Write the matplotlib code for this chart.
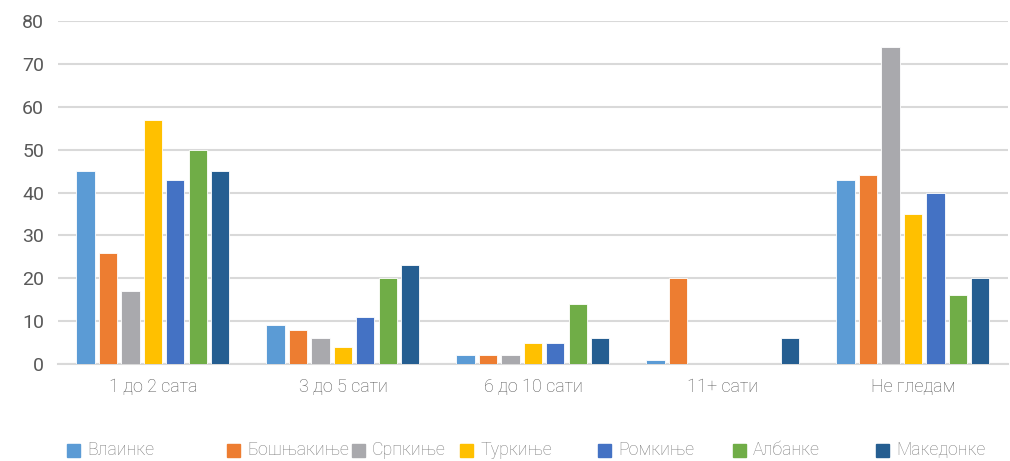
import matplotlib.pyplot as plt
from matplotlib.patches import Rectangle
import numpy as np

plt.rcParams['font.family'] = ['Roboto', 'DejaVu Sans']
plt.rcParams['font.weight'] = 'light'

# Data
categories = ['1 до 2 сата', '3 до 5 сати', '6 до 10 сати', '11+ сати', 'Не гледам']
series = ['Влаинке', 'Бошњакиње', 'Српкиње', 'Туркиње', 'Ромкиње', 'Албанке', 'Македонке']
vlainke = [45, 9, 2, 1, 43]
bosnjakinje = [26, 8, 2, 20, 44]
srpkinje = [17, 6, 2, 0, 74]
turkinje = [57, 4, 5, 0, 35]
romkinje = [43, 11, 5, 0, 40]
albanke = [50, 20, 14, 0, 16]
makedonke = [45, 23, 6, 6, 20]
yticks = [0, 10, 20, 30, 40, 50, 60, 70, 80]

values = [vlainke, bosnjakinje, srpkinje, turkinje, romkinje, albanke, makedonke]
colors = ['#5B9BD5', '#ED7D31', '#A9A9AD', '#FFC000', '#4472C4', '#70AD47', '#255E91']

fig = plt.figure(figsize=(10.10, 4.61), dpi=100)
ax = fig.add_axes([0.0574, 0.2104, 0.9406, 0.744])

x = np.arange(len(categories))
slot = 0.1184
width = 0.095
for i, (vals, col) in enumerate(zip(values, colors)):
    ax.bar(x + (i - 3) * slot, vals, width, color=col, edgecolor='white',
           linewidth=0.6, zorder=3)

ax.set_xlim(-0.5, len(categories) - 0.5)
ax.set_ylim(0, 80)
ax.set_yticks(yticks)
ax.set_yticklabels([str(t) for t in yticks], fontweight='normal')
ax.set_xticks(x)
ax.set_xticklabels(categories, fontsize=13, color='#595959')
ax.tick_params(axis='y', labelsize=14, labelcolor='#595959', length=0, pad=10)
ax.tick_params(axis='x', length=0, pad=10)
ax.grid(axis='y', color='#D9D9D9', linewidth=1.5, zorder=0)
for s in ['top', 'right', 'left']:
    ax.spines[s].set_visible(False)
ax.spines['bottom'].set_color('#D9D9D9')
ax.spines['bottom'].set_linewidth(1.5)

# Legend, laid out like the original
W, H = 1010, 461
marker_x = [67, 227, 352, 460, 598, 733, 876]
yc = 450
for name, col, mx in zip(series, colors, marker_x):
    fig.patches.append(Rectangle((mx / W, (H - yc - 6.5) / H), 13 / W, 13 / H,
                                 transform=fig.transFigure, color=col))
    fig.text((mx + 20) / W, (H - yc) / H, name, fontsize=12.8, color='#808080',
             va='center', ha='left')

fig.savefig('out.png', dpi=100)
